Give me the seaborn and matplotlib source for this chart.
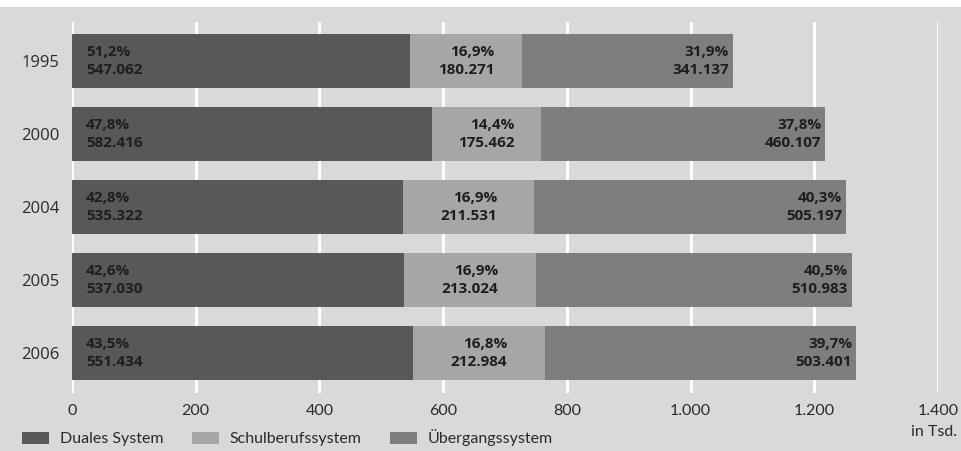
import numpy as np
import pandas as pd
import seaborn as sns
import matplotlib.pyplot as plt
from matplotlib.patches import Patch, Rectangle

# Neuzugänge in das berufliche Ausbildungssystem (Personen)
years = ["1995", "2000", "2004", "2005", "2006"]
duales = [547062, 582416, 535322, 537030, 551434]
schulberuf = [180271, 175462, 211531, 213024, 212984]
uebergang = [341137, 460107, 505197, 510983, 503401]
pct_duales = [51.2, 47.8, 42.8, 42.6, 43.5]
pct_schulberuf = [16.9, 14.4, 16.9, 16.9, 16.8]
pct_uebergang = [31.9, 37.8, 40.3, 40.5, 39.7]
sectors = ["Duales System", "Schulberufssystem", "Übergangssystem"]
x_ticks = [0, 200, 400, 600, 800, 1000, 1200, 1400]

colors = ["#585858", "#a6a6a6", "#7e7e7e"]
bg = "#d9d9d9"
text_dark = "#1e1e1e"
narrow = ["Lato", "DejaVu Sans"]
label_font = ["Open Sans", "DejaVu Sans"]


def de_int(v):
    return f"{v:,}".replace(",", ".")


def de_pct(p):
    return f"{p:.1f}".replace(".", ",") + "%"


sns.set_theme(style="white")
plt.rcParams["font.family"] = ["DejaVu Sans"]

fig = plt.figure(figsize=(9.61, 4.51), dpi=100, facecolor=bg)
fig.patches.append(Rectangle((0, 1 - 7 / 451), 1, 7 / 451, transform=fig.transFigure,
                             facecolor="white", edgecolor="none", zorder=-1))
ax = fig.add_axes([72 / 961, 1 - 393 / 451, 866 / 961, 371 / 451])
ax.set_facecolor(bg)

df = pd.DataFrame({
    "Jahr": years,
    "Duales": np.array(duales) / 1000,
    "Schul": np.array(schulberuf) / 1000,
    "Uebergang": np.array(uebergang) / 1000,
})
df["c1"] = df["Duales"]
df["c2"] = df["c1"] + df["Schul"]
df["c3"] = df["c2"] + df["Uebergang"]

# stacked bars: draw cumulative totals from the outermost segment inward
for col, color in [("c3", colors[2]), ("c2", colors[1]), ("c1", colors[0])]:
    sns.barplot(data=df, x=col, y="Jahr", orient="h", color=color, saturation=1,
                width=0.74, ax=ax, zorder=2, linewidth=0)

lab_kw = dict(va="center", fontsize=11, fontweight="bold", color=text_dark,
              linespacing=1.45, family=label_font, zorder=3)
for i, row in df.iterrows():
    ax.annotate(f"{de_pct(pct_duales[i])}\n{de_int(duales[i])}", xy=(0, i),
                xytext=(10, 0), textcoords="offset points", ha="left", **lab_kw)
    ax.annotate(f"{de_pct(pct_schulberuf[i])}\n{de_int(schulberuf[i])}",
                xy=((row["c1"] + row["c2"]) / 2, i), ha="center",
                multialignment="right", **lab_kw)
    ax.annotate(f"{de_pct(pct_uebergang[i])}\n{de_int(uebergang[i])}", xy=(row["c3"], i),
                xytext=(-3, 0), textcoords="offset points", ha="right",
                multialignment="right", **lab_kw)

ax.set_xlim(0, 1400)
ax.set_ylim(4.548, -0.534)
ax.set_xticks(x_ticks)
ax.set_xticklabels([de_int(t) for t in x_ticks], family=narrow, fontsize=11.5, color="#2a2a2a")
ax.set_yticks(range(len(years)))
ax.set_yticklabels(years, fontsize=12, color="#2a2a2a", family=label_font)
ax.tick_params(axis="x", length=0, pad=8)
ax.tick_params(axis="y", length=0, pad=9)
ax.set_xlabel("")
ax.set_ylabel("")
ax.xaxis.grid(True, color="white", linewidth=2.2, zorder=0)
ax.yaxis.grid(False)
ax.set_axisbelow(True)
for s in ax.spines.values():
    s.set_visible(False)

fig.text(934 / 961, 1 - 432 / 451, "in Tsd.", ha="center", va="center",
         family=narrow, fontsize=11.5, color="#2a2a2a")

handles = [Patch(facecolor=c, edgecolor="none") for c in colors]
fig.legend(handles, sectors, loc="center left", bbox_to_anchor=(8 / 961, 1 - 438 / 451),
           ncol=3, frameon=False, handlelength=1.65, handleheight=0.8,
           handletextpad=0.7, columnspacing=1.8,
           prop={"family": narrow, "size": 11.5}, labelcolor="#2a2a2a")

fig.savefig("out.png", dpi=100, facecolor=bg)
